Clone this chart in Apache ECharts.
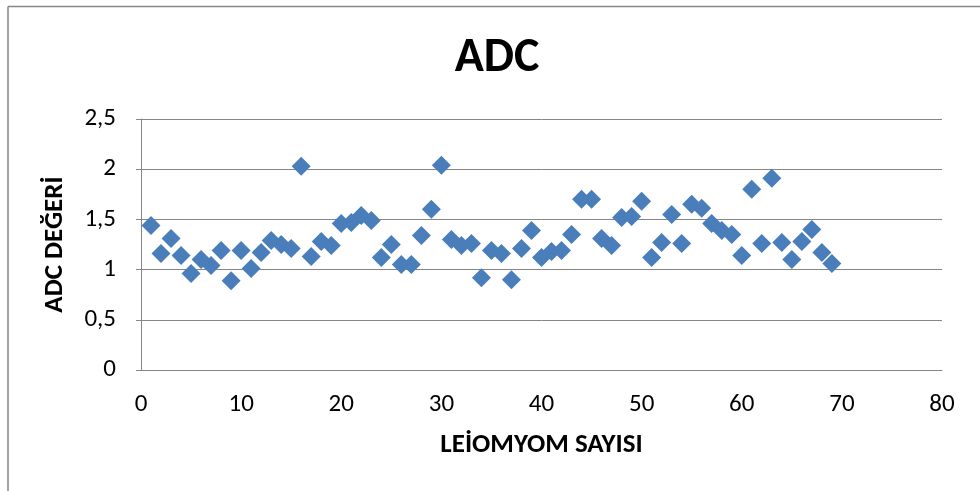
<!DOCTYPE html>
<html>
<head>
<meta charset="utf-8">
<script src="https://cdn.jsdelivr.net/npm/echarts@6/dist/echarts.min.js"></script>
<style>
html,body{margin:0;padding:0;background:#fff;}
#chart{width:980px;height:491px;}
</style>
</head>
<body>
<div id="chart"></div>
<script>
const titleText = 'ADC';
const xAxisName = 'LEİOMYOM SAYISI';
const yAxisName = 'ADC DEĞERİ';
const leiomyomNo = [];
for (let i = 1; i <= 69; i++) leiomyomNo.push(i);
const adcValues = [
  1.44, 1.16, 1.31, 1.14, 0.96, 1.10, 1.04, 1.19, 0.89, 1.19,
  1.01, 1.17, 1.29, 1.25, 1.21, 2.03, 1.13, 1.28, 1.24, 1.46,
  1.47, 1.54, 1.49, 1.12, 1.25, 1.05, 1.05, 1.34, 1.60, 2.04,
  1.30, 1.24, 1.26, 0.92, 1.19, 1.16, 0.90, 1.21, 1.39, 1.12,
  1.18, 1.19, 1.35, 1.70, 1.70, 1.31, 1.24, 1.52, 1.53, 1.68,
  1.12, 1.27, 1.55, 1.26, 1.65, 1.61, 1.46, 1.39, 1.35, 1.14,
  1.80, 1.26, 1.91, 1.27, 1.10, 1.28, 1.40, 1.17, 1.06
];
const points = leiomyomNo.map((x, i) => [x, adcValues[i]]);

const font = "Carlito, 'Open Sans', 'Liberation Sans', sans-serif";
const chart = echarts.init(document.getElementById('chart'), null, {renderer: 'canvas'});
chart.setOption({
  animation: false,
  backgroundColor: '#ffffff',
  title: {
    text: titleText,
    left: 492, top: 30, textAlign: 'center',
    textStyle: {fontFamily: font, fontWeight: 'bold', fontSize: 48, color: '#000'}
  },
  grid: {left: 141, right: 38, top: 119, bottom: 121},
  xAxis: {
    type: 'value', min: 0, max: 80, interval: 10,
    name: xAxisName, nameLocation: 'middle', nameGap: 62,
    nameTextStyle: {fontFamily: font, fontWeight: 'bold', fontSize: 27, color: '#000'},
    axisLine: {show: true, onZero: false, lineStyle: {color: '#868686', width: 1}},
    axisTick: {show: false},
    splitLine: {show: false},
    axisLabel: {fontFamily: font, fontSize: 25, color: '#000', margin: 22}
  },
  yAxis: {
    type: 'value', min: 0, max: 2.5, interval: 0.5,
    name: yAxisName, nameLocation: 'middle', nameGap: 72, nameRotate: 90,
    nameTextStyle: {fontFamily: font, fontWeight: 'bold', fontSize: 27, color: '#000'},
    axisLine: {show: true, lineStyle: {color: '#868686', width: 1}},
    axisTick: {show: true, length: 5, lineStyle: {color: '#868686'}},
    splitLine: {show: true, lineStyle: {color: '#868686', width: 1}},
    axisLabel: {
      fontFamily: font, fontSize: 25, color: '#000', margin: 25,
      formatter: v => String(v).replace('.', ',')
    }
  },
  series: [{
    type: 'scatter',
    data: points,
    symbol: 'diamond',
    symbolSize: 19,
    itemStyle: {color: '#4a7ebb', opacity: 1}
  }],
  graphic: [
    {type: 'line', shape: {x1: 8, y1: 6.5, x2: 980, y2: 6.5}, style: {stroke: '#868686', lineWidth: 1.5}},
    {type: 'line', shape: {x1: 8, y1: 6.5, x2: 8, y2: 491}, style: {stroke: '#868686', lineWidth: 1.5}}
  ]
});
</script>
</body>
</html>
